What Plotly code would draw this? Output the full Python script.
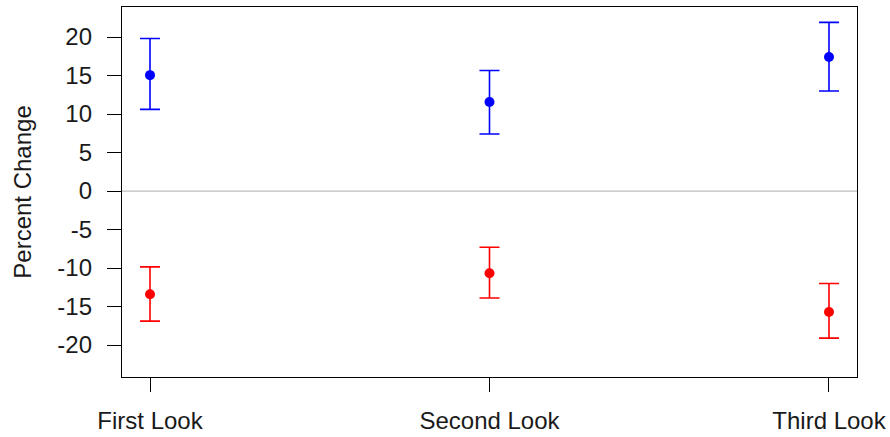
import plotly.graph_objects as go

categories = ["First Look", "Second Look", "Third Look"]
x_pos = [1, 2, 3]
blue_mean = [15.05, 11.56, 17.4]
blue_upper = [19.8, 15.65, 21.9]
blue_lower = [10.6, 7.4, 13.0]
red_mean = [-13.4, -10.67, -15.7]
red_upper = [-9.85, -7.3, -12.0]
red_lower = [-16.9, -13.9, -19.1]
y_ticks = [-20, -15, -10, -5, 0, 5, 10, 15, 20]
y_tick_labels = ["-20", "-15", "-10", "-5", "0", "5", "10", "15", "20"]

def series(mean, upper, lower, color):
    return go.Scatter(
        x=x_pos, y=mean, mode="markers",
        marker=dict(color=color, size=10, symbol="circle"),
        error_y=dict(type="data", symmetric=False,
                     array=[u - m for u, m in zip(upper, mean)],
                     arrayminus=[m - l for m, l in zip(mean, lower)],
                     color=color, thickness=1.6, width=10),
        showlegend=False, cliponaxis=False,
    )

fig = go.Figure()
fig.add_shape(type="line", xref="paper", yref="y", x0=0, x1=1, y0=0, y1=0,
              line=dict(color="#BEBEBE", width=1.3), layer="below")
fig.add_trace(series(blue_mean, blue_upper, blue_lower, "#0000FF"))
fig.add_trace(series(red_mean, red_upper, red_lower, "#FF0000"))

font = dict(family="Liberation Sans, Arial, sans-serif", color="#1a1a1a")
fig.update_layout(
    width=890, height=437,
    margin=dict(l=122, r=33, t=7, b=60, autoexpand=False),
    paper_bgcolor="white", plot_bgcolor="white",
    font=font,
    xaxis=dict(range=[0.9175, 3.0825], tickvals=x_pos, ticktext=categories,
               showgrid=False, zeroline=False, showline=True, mirror=True,
               linecolor="black", linewidth=1.3, ticks="outside", ticklen=14,
               tickcolor="black", tickwidth=1.3, tickfont=dict(size=24),
               ticklabelstandoff=8, automargin=False),
    yaxis=dict(range=[-24.15, 23.9], tickvals=y_ticks, ticktext=y_tick_labels,
               showgrid=False, zeroline=False, showline=True, mirror=True,
               linecolor="black", linewidth=1.3, ticks="outside", ticklen=14,
               tickcolor="black", tickwidth=1.3, tickfont=dict(size=24),
               ticklabelstandoff=10, automargin=False,
               title=dict(text="Percent Change", font=dict(size=24), standoff=18)),
)
fig.write_html("out.html", config={"displayModeBar": False},
               post_script="document.body.style.margin='0';")
